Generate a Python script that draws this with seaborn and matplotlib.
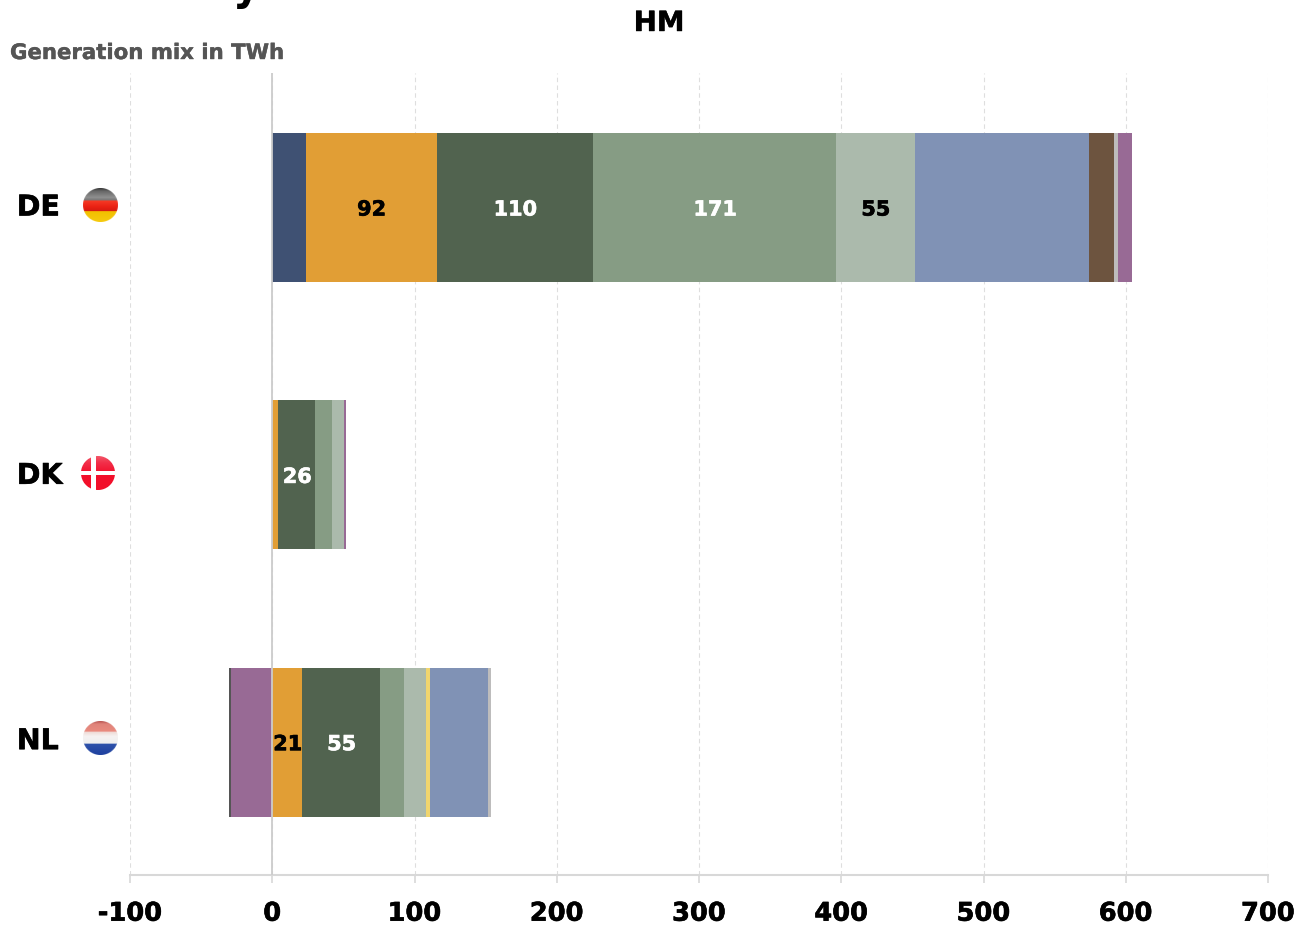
import numpy as np
import pandas as pd
import matplotlib
matplotlib.use("Agg")
import matplotlib.pyplot as plt
import matplotlib.patheffects as pe
from matplotlib.colors import to_rgb
from matplotlib.ticker import MultipleLocator
from matplotlib.transforms import ScaledTranslation
import seaborn as sns

# Generation mix per country, TWh; each list follows the order of `countries`
countries = ["DE", "DK", "NL"]
nuclear = [23.5, 0, 0]
fossil_gas = [92, 4.2, 21]
wind_onshore = [110, 26, 55]
wind_offshore = [171, 12, 16.8]
solar = [55, 8.4, 15.4]
yellow_other = [0, 0, 2.8]
hydro = [122.5, 0, 40.8]
biomass = [17.5, 0, 0]
other_renewables = [3, 0, 2.1]
net_imports = [10, 0.9, -28.8]
net_other = [0, 0, -1.4]

series_names = ["Nuclear", "Fossil gas", "Wind onshore", "Wind offshore", "Solar", "Waste",
                "Hydro", "Biomass", "Other renewables", "Net trade", "Other"]
series_values = [nuclear, fossil_gas, wind_onshore, wind_offshore, solar, yellow_other,
                 hydro, biomass, other_renewables, net_imports, net_other]
series_colors = ["#3f5173", "#e19e35", "#51634f", "#869c84", "#abbaac", "#f0d56e",
                 "#8092b5", "#6d543f", "#bdbcbc", "#986a95", "#555555"]

# Segments that carry a printed value: series -> countries, with the label colour
value_labels = {"Fossil gas": (["DE", "NL"], "black"),
                "Wind onshore": (["DE", "DK", "NL"], "white"),
                "Wind offshore": (["DE"], "white"),
                "Solar": (["DE"], "black")}

sns.set_theme(style="white")
plt.rcParams["font.family"] = ["DejaVu Sans"]
plt.rcParams["font.weight"] = "bold"
plt.rcParams["axes.unicode_minus"] = False

W, H = 1294, 929
fig = plt.figure(figsize=(W / 100, H / 100), dpi=100, facecolor="white")
ax = fig.add_axes([130 / W, (H - 876) / H, 1138 / W, 802 / H])


def fig_xy(px, py):
    return px / W, 1 - py / H


def heavier(text, color, width=0.45):
    """Thicken a label slightly with an outline in its own colour."""
    text.set_path_effects([pe.withStroke(linewidth=width, foreground=color)])


pos_stack = np.zeros(len(countries))
neg_stack = np.zeros(len(countries))
for name, values, color in zip(series_names, series_values, series_colors):
    values = np.array(values, dtype=float)
    left = np.where(values >= 0, pos_stack, neg_stack)
    frame = pd.DataFrame({"country": countries, "twh": values})
    sns.barplot(data=frame, x="twh", y="country", order=countries, orient="y",
                color=color, saturation=1, width=0.557, left=left, linewidth=0,
                errorbar=None, ax=ax)
    pos_stack += np.clip(values, 0, None)
    neg_stack += np.clip(values, None, 0)
    if name in value_labels:
        shown, text_color = value_labels[name]
        labels = [f"{v:.0f}" if c in shown else "" for c, v in zip(countries, values)]
        for t in ax.bar_label(ax.containers[-1], labels=labels, label_type="center",
                              color=text_color, fontsize=15, fontweight="bold"):
            t.xyann = (0.4, -1.5)
            heavier(t, text_color)

ax.set_xlim(-100, 700)
ax.set_ylim(2.497, -0.503)
ax.set_xlabel("")
ax.set_ylabel("")
ax.xaxis.set_major_locator(MultipleLocator(100))
ax.set_axisbelow(True)
ax.grid(axis="x", color="#dedede", linestyle=(0, (4, 3)), linewidth=0.8)
ax.grid(axis="y", visible=False)
ax.axvline(0, color="#cccccc", linewidth=1.3, zorder=5)

for side in ["top", "left", "right"]:
    ax.spines[side].set_visible(False)
ax.spines["bottom"].set_color("#d8d8d8")
ax.spines["bottom"].set_linewidth(1.5)
ax.tick_params(axis="x", length=6, width=1.2, color="#d8d8d8", labelsize=18.5,
               labelcolor="black", pad=12.5, bottom=True)
ax.tick_params(axis="y", length=0, labelsize=20.5, labelcolor="black", pad=81.5)

# Country names sit a little above the centre of their bars
label_lift = {"DE": 3, "DK": 2, "NL": 4}
for label in ax.get_yticklabels():
    label.set_horizontalalignment("left")
    label.set_fontweight("bold")
    heavier(label, "black")
    lift = ScaledTranslation(0, label_lift[label.get_text()] / 100, fig.dpi_scale_trans)
    label.set_transform(label.get_transform() + lift)
for label in ax.get_xticklabels():
    label.set_fontweight("bold")
    label.set_clip_on(False)
    heavier(label, "black")

subtitle = fig.text(*fig_xy(10, 54), "Generation mix in TWh", color="#555555", fontsize=15.3,
                    fontweight="bold", ha="left", va="center")
heavier(subtitle, "#555555", 0.3)
heading = fig.text(*fig_xy(659, 32), "HM", color="black", fontsize=20, fontweight="bold",
                   ha="center", va="baseline")
heavier(heading, "black", 0.3)
fig.text(*fig_xy(246, 0), "y", color="black", fontsize=30, fontweight="bold",
         ha="center", va="baseline")


# Vertical colour stops of each round flag, top to bottom
flag_stops = {
    "DE": [(0.00, "#2c2c2c"), (0.10, "#666666"), (0.28, "#8f8f8f"), (0.36, "#777777"),
           (0.38, "#f63a26"), (0.55, "#ea2114"), (0.66, "#d81c10"), (0.69, "#f2c000"),
           (1.00, "#f6cc10")],
    "NL": [(0.00, "#b04a48"), (0.10, "#df8379"), (0.30, "#e98a7f"), (0.34, "#efdcd8"),
           (0.45, "#f6f2f2"), (0.65, "#efefef"), (0.67, "#2e52aa"), (1.00, "#1d3f9e")],
    "DK": [(0.00, "#f25a6c"), (0.20, "#f2304a"), (0.50, "#f2102c"), (1.00, "#f20f2a")],
}


def flag_image(kind, size=36):
    """Round glossy flag as an RGBA array."""
    yy, xx = np.mgrid[-1:1:size * 1j, -1:1:size * 1j]
    rr = np.hypot(xx, yy)
    stops = flag_stops[kind]
    depth = (yy + 1) / 2
    where = [s[0] for s in stops]
    colours = np.array([to_rgb(s[1]) for s in stops])
    rgb = np.dstack([np.interp(depth, where, colours[:, i]) for i in range(3)])
    if kind == "DK":
        rgb[np.abs(yy) < 0.14] = 1
        rgb[np.abs(xx + 0.25) < 0.13] = 1
    alpha = np.clip((1.0 - rr) * size / 2, 0, 1)
    return np.dstack([rgb, alpha])


flag_spots = {"DE": (100.5, 206, 18), "DK": (97.5, 474.5, 18), "NL": (100.5, 739, 18)}
for code in countries:
    cx, cy, r = flag_spots[code]
    flag_ax = fig.add_axes([(cx - r) / W, 1 - (cy + r) / H, 2 * r / W, 2 * r / H])
    flag_ax.imshow(flag_image(code), interpolation="bilinear", aspect="auto")
    flag_ax.axis("off")

fig.savefig("out.png", dpi=100, facecolor="white")
